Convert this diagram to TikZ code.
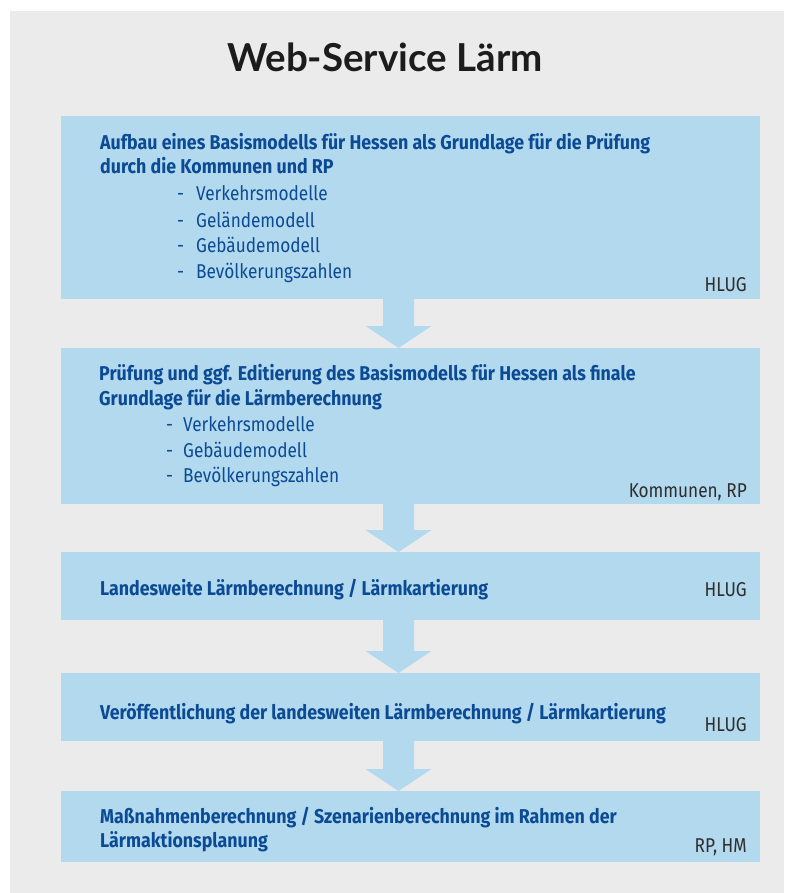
\documentclass[tikz,border=0pt]{standalone}
\usepackage{fontspec}
\setmainfont{Fira Sans}[FakeStretch=0.86, BoldFeatures={FakeStretch=0.89}]
\newfontfamily\titlefont{Lato}
\usetikzlibrary{calc}
\definecolor{bg}{HTML}{EBEBEB}
\definecolor{boxfill}{HTML}{B3D9EE}
\definecolor{txtblue}{HTML}{0B4A94}
\definecolor{lbl}{HTML}{2E2E2E}
\definecolor{titlecol}{HTML}{1C1C1C}
\newcommand\flowarrow[2]{%
  \fill[flow] ($(#1.south -| ax)+(-15.5,-1)$) -- ($(#2.north -| ax)+(-15.5,-22)$)
    -- ($(#2.north -| ax)+(-33,-22)$) -- (#2.north -| ax)
    -- ($(#2.north -| ax)+(33,-22)$) -- ($(#2.north -| ax)+(15.5,-22)$)
    -- ($(#1.south -| ax)+(15.5,-1)$) -- cycle;}
\begin{document}
\begin{tikzpicture}[x=1pt,y=-1pt,
  stage/.style={fill=boxfill, draw=none, minimum width=699pt, inner sep=0pt, anchor=north west},
  head/.style={anchor=base west, inner sep=0pt, text=txtblue, font=\bfseries\fontsize{20}{24}\selectfont},
  item/.style={anchor=base west, inner sep=0pt, text=txtblue, font=\fontsize{20}{24}\selectfont},
  who/.style={anchor=base east, inner sep=0pt, text=lbl, font=\fontsize{20}{24}\selectfont},
  flow/.style={fill=boxfill, draw=none}]
\fill[white] (0,0) rectangle (784,893);
\useasboundingbox (0,0) rectangle (784,893);
\fill[bg] (10,11) rectangle (784,893);
\coordinate (ax) at (398.5,0);

\node[anchor=base, inner sep=0pt, text=titlecol, font=\titlefont\bfseries\fontsize{38.5}{44}\selectfont] (title) at (385,72) {Web-Service Lärm};

\node[stage, minimum height=183pt] (b1) at (61,116) {};
\node[stage, minimum height=156pt] (b2) at (61,348) {};
\node[stage, minimum height=68pt] (b3) at (61,552) {};
\node[stage, minimum height=68pt] (b4) at (61,673) {};
\node[stage, minimum height=71pt] (b5) at (61,791) {};

\flowarrow{b1}{b2}
\flowarrow{b2}{b3}
\flowarrow{b3}{b4}
\flowarrow{b4}{b5}

% box 1
\node[head] (t1a) at (100,150) {Aufbau eines Basismodells für Hessen als Grundlage für die Prüfung};
\node[head] (t1b) at (100,174) {durch die Kommunen und RP};
\node[item] (d1a) at (177,201) {-};
\node[item] (i1a) at (196,201) {Verkehrsmodelle};
\node[item] (d1b) at (177,227) {-};
\node[item] (i1b) at (196,227) {Geländemodell};
\node[item] (d1c) at (177,252) {-};
\node[item] (i1c) at (196,252) {Gebäudemodell};
\node[item] (d1d) at (177,278) {-};
\node[item] (i1d) at (196,278) {Bevölkerungszahlen};
\node[who] (w1) at (747,291) {HLUG};

% box 2
\node[head] (t2a) at (99,380) {Prüfung und ggf. Editierung des Basismodells für Hessen als finale};
\node[head] (t2b) at (99,405) {Grundlage für die Lärmberechnung};
\node[item] (d2a) at (166,431) {-};
\node[item] (i2a) at (183,431) {Verkehrsmodelle};
\node[item] (d2b) at (166,457) {-};
\node[item] (i2b) at (183,457) {Gebäudemodell};
\node[item] (d2c) at (166,482) {-};
\node[item] (i2c) at (183,482) {Bevölkerungszahlen};
\node[who] (w2) at (747,497) {Kommunen, RP};

% box 3
\node[head] (t3) at (100,595) {Landesweite Lärmberechnung / Lärmkartierung};
\node[who] (w3) at (747,596) {HLUG};

% box 4
\node[head] (t4) at (100,719) {Veröffentlichung der landesweiten Lärmberechnung / Lärmkartierung};
\node[who] (w4) at (747,731) {HLUG};

% box 5
\node[head] (t5a) at (100,823) {Maßnahmenberechnung / Szenarienberechnung im Rahmen der};
\node[head] (t5b) at (100,847) {Lärmaktionsplanung};
\node[who] (w5) at (747,852) {RP, HM};
\end{tikzpicture}
\end{document}
